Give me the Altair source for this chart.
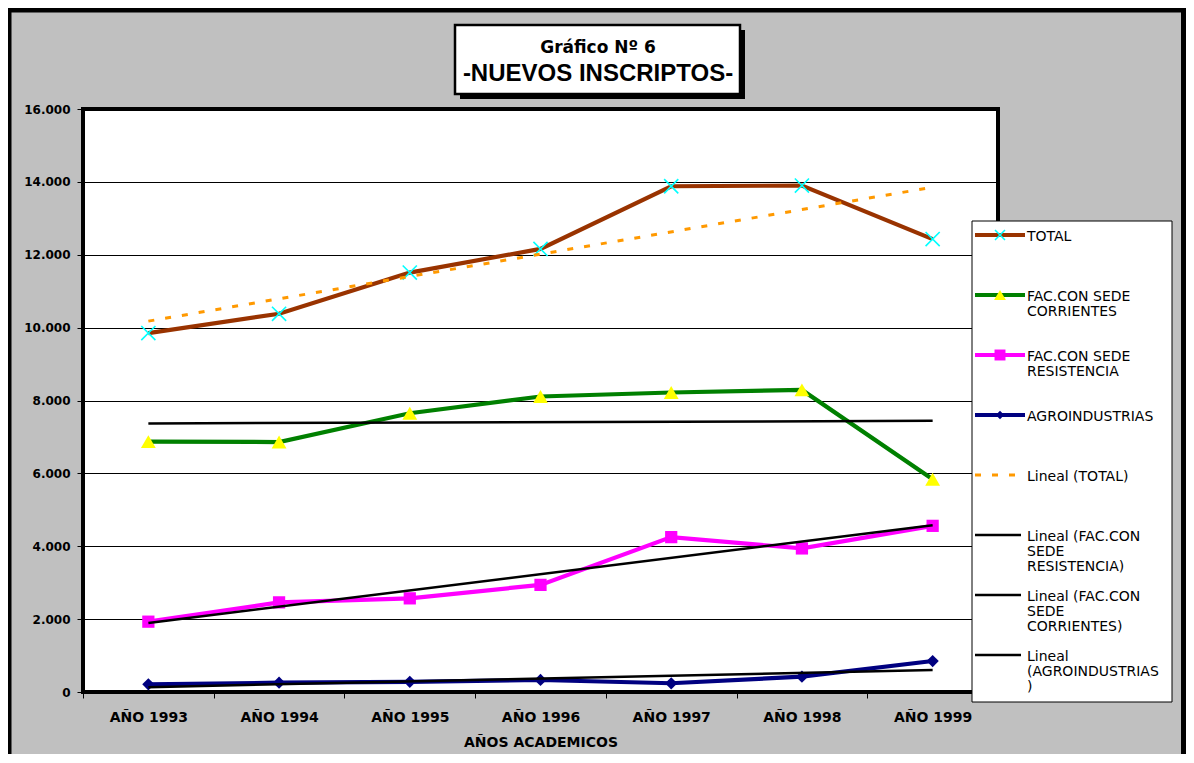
import altair as alt
import pandas as pd

# ---------------- data ----------------
years = ["AÑO 1993", "AÑO 1994", "AÑO 1995", "AÑO 1996", "AÑO 1997", "AÑO 1998", "AÑO 1999"]
series_names = ["TOTAL", "FAC.CON SEDE CORRIENTES", "FAC.CON SEDE RESISTENCIA", "AGROINDUSTRIAS"]
total = [9850, 10380, 11510, 12160, 13880, 13900, 12430]
corrientes = [6870, 6860, 7650, 8110, 8220, 8290, 5840]
resistencia = [1930, 2460, 2570, 2940, 4250, 3940, 4560]
agro = [210, 255, 280, 330, 240, 420, 850]
y_ticks = [0, 2000, 4000, 6000, 8000, 10000, 12000, 14000, 16000]

title_line1 = "Gráfico Nº 6"
title_line2 = "-NUEVOS INSCRIPTOS-"
x_title = "AÑOS ACADEMICOS"

legend_labels = [
    ["TOTAL"],
    ["FAC.CON SEDE", "CORRIENTES"],
    ["FAC.CON SEDE", "RESISTENCIA"],
    ["AGROINDUSTRIAS"],
    ["Lineal (TOTAL)"],
    ["Lineal (FAC.CON", "SEDE", "RESISTENCIA)"],
    ["Lineal (FAC.CON", "SEDE", "CORRIENTES)"],
    ["Lineal", "(AGROINDUSTRIAS", ")"],
]

rows = []
for name, vals in zip(series_names, [total, corrientes, resistencia, agro]):
    for i, (yr, v) in enumerate(zip(years, vals)):
        rows.append({"anio": yr, "idx": i, "serie": name, "valor": v})
df = pd.DataFrame(rows)
one = pd.DataFrame({"k": [0]})

# ---------------- layout ----------------
W, H = 915, 583
PAD = {"left": 75, "top": 101, "right": 188, "bottom": 62}
FONT = "DejaVu Sans"

x_enc = alt.X(
    "anio:N",
    sort=years,
    scale=alt.Scale(type="band", domain=years, paddingInner=0, paddingOuter=0),
    axis=alt.Axis(
        title=x_title, domain=False, grid=False, ticks=True, tickBand="extent",
        tickSize=6, tickColor="black", tickWidth=1, labelAngle=0,
        labelFont=FONT, labelFontSize=14, labelFontWeight="bold", labelColor="black",
        labelPadding=12,
        titleFont=FONT, titleFontSize=14, titleFontWeight="bold", titleColor="black",
        titleY=54, titleBaseline="alphabetic",
    ),
)
y_enc = alt.Y(
    "valor:Q",
    title=None,
    scale=alt.Scale(domain=[0, 16000], nice=False, zero=True),
    axis=alt.Axis(
        values=y_ticks, domain=False, grid=True, gridColor="black", gridWidth=1, gridOpacity=1,
        ticks=True, tickSize=6, tickColor="black", tickWidth=1,
        labelExpr="replace(format(datum.value, ','), ',', '.')",
        labelFont=FONT, labelFontSize=12, labelFontWeight="bold", labelColor="black",
        labelPadding=7,
    ),
)

line_colors = {"TOTAL": "#993300", "FAC.CON SEDE CORRIENTES": "#008000",
               "FAC.CON SEDE RESISTENCIA": "#FF00FF", "AGROINDUSTRIAS": "#000080"}
X_PATH = "M-1,-1L1,1M-1,1L1,-1"
marker_styles = {
    "TOTAL": dict(shape=X_PATH, filled=False, color="#00FFFF", strokeWidth=1.6, size=200),
    "FAC.CON SEDE CORRIENTES": dict(shape="triangle-up", filled=True, color="#FFFF00", size=220),
    "FAC.CON SEDE RESISTENCIA": dict(shape="square", filled=True, color="#FF00FF", size=150),
    "AGROINDUSTRIAS": dict(shape="diamond", filled=True, color="#000080", size=150),
}

layers = []

# outer frame
layers.append(alt.Chart(one).mark_rect(fillOpacity=0, stroke="black", strokeWidth=5).encode(
    x=alt.value(-74), x2=alt.value(1100.5), y=alt.value(-99), y2=alt.value(2000)))

# title box
layers.append(alt.Chart(one).mark_rect(color="black").encode(
    x=alt.value(377), x2=alt.value(662), y=alt.value(-79), y2=alt.value(-10)))
layers.append(alt.Chart(one).mark_rect(fill="white", stroke="black", strokeWidth=2.5).encode(
    x=alt.value(372), x2=alt.value(657), y=alt.value(-84), y2=alt.value(-15)))
layers.append(alt.Chart(one).mark_text(text=title_line1, font=FONT, fontSize=17, fontWeight="bold",
                                       align="center", baseline="alphabetic", color="black").encode(
    x=alt.value(515), y=alt.value(-56)))
layers.append(alt.Chart(one).mark_text(text=title_line2, font="Liberation Sans", fontSize=24, fontWeight="bold",
                                       align="center", baseline="alphabetic", color="black").encode(
    x=alt.value(515), y=alt.value(-28)))

# data lines
for name in series_names:
    sub = df[df.serie == name]
    layers.append(alt.Chart(sub).mark_line(color=line_colors[name], strokeWidth=4.2).encode(x=x_enc, y=y_enc))

# markers
for name in series_names:
    sub = df[df.serie == name]
    st = marker_styles[name]
    layers.append(alt.Chart(sub).mark_point(opacity=1, **st).encode(x=x_enc, y=y_enc))

# trend lines (least squares, computed by Vega's regression transform)
def trend(names, **style):
    return (
        alt.Chart(df)
        .transform_filter(alt.FieldOneOfPredicate(field="serie", oneOf=names))
        .transform_regression("idx", "valor", groupby=["serie"])
        .transform_calculate(anio="'AÑO ' + (1993 + round(datum.idx))")
        .mark_line(**style)
        .encode(x=x_enc, y=y_enc, detail="serie:N")
    )

layers.append(trend(["TOTAL"], color="#FF9900", strokeWidth=3, strokeDash=[6, 11]))
layers.append(trend(series_names[1:], color="black", strokeWidth=2.5))

# legend box
LX0, LX1, LY0, LY1 = 889, 1089, 112, 593
layers.append(alt.Chart(one).mark_rect(fill="white", stroke="black", strokeWidth=1).encode(
    x=alt.value(LX0), x2=alt.value(LX1), y=alt.value(LY0), y2=alt.value(LY1)))

legend_line_styles = [
    dict(color="#993300", strokeWidth=4),
    dict(color="#008000", strokeWidth=4),
    dict(color="#FF00FF", strokeWidth=4),
    dict(color="#000080", strokeWidth=4),
    dict(color="#FF9900", strokeWidth=3, strokeDash=[6, 11]),
    dict(color="black", strokeWidth=2.7),
    dict(color="black", strokeWidth=2.7),
    dict(color="black", strokeWidth=2.7),
]
legend_markers = [
    dict(shape=X_PATH, filled=False, color="#00FFFF", strokeWidth=1.5, size=100),
    dict(shape="triangle-up", filled=True, color="#FFFF00", size=140),
    dict(shape="square", filled=True, color="#FF00FF", size=120),
    dict(shape="diamond", filled=True, color="#000080", size=70),
]
for i, lbl in enumerate(legend_labels):
    sy = 126 + 60 * i
    x_end = 942 if i < 4 else 938
    layers.append(alt.Chart(one).mark_rule(**legend_line_styles[i]).encode(
        x=alt.value(892), x2=alt.value(x_end), y=alt.value(sy)))
    if i < 4:
        layers.append(alt.Chart(one).mark_point(opacity=1, **legend_markers[i]).encode(
            x=alt.value(917), y=alt.value(sy)))
    layers.append(alt.Chart(one).mark_text(text=lbl, font=FONT, fontSize=14, lineHeight=15,
                                           align="left", baseline="alphabetic", color="black").encode(
        x=alt.value(944), y=alt.value(sy + 6)))

chart = (
    alt.layer(*layers)
    .properties(width=W, height=H, padding=PAD, autosize=alt.AutoSizeParams(type="none"),
                background="#C0C0C0")
    .configure_view(fill="white", stroke="black", strokeWidth=4)
)

chart.save("out.html", embed_options={"renderer": "svg", "actions": False})
